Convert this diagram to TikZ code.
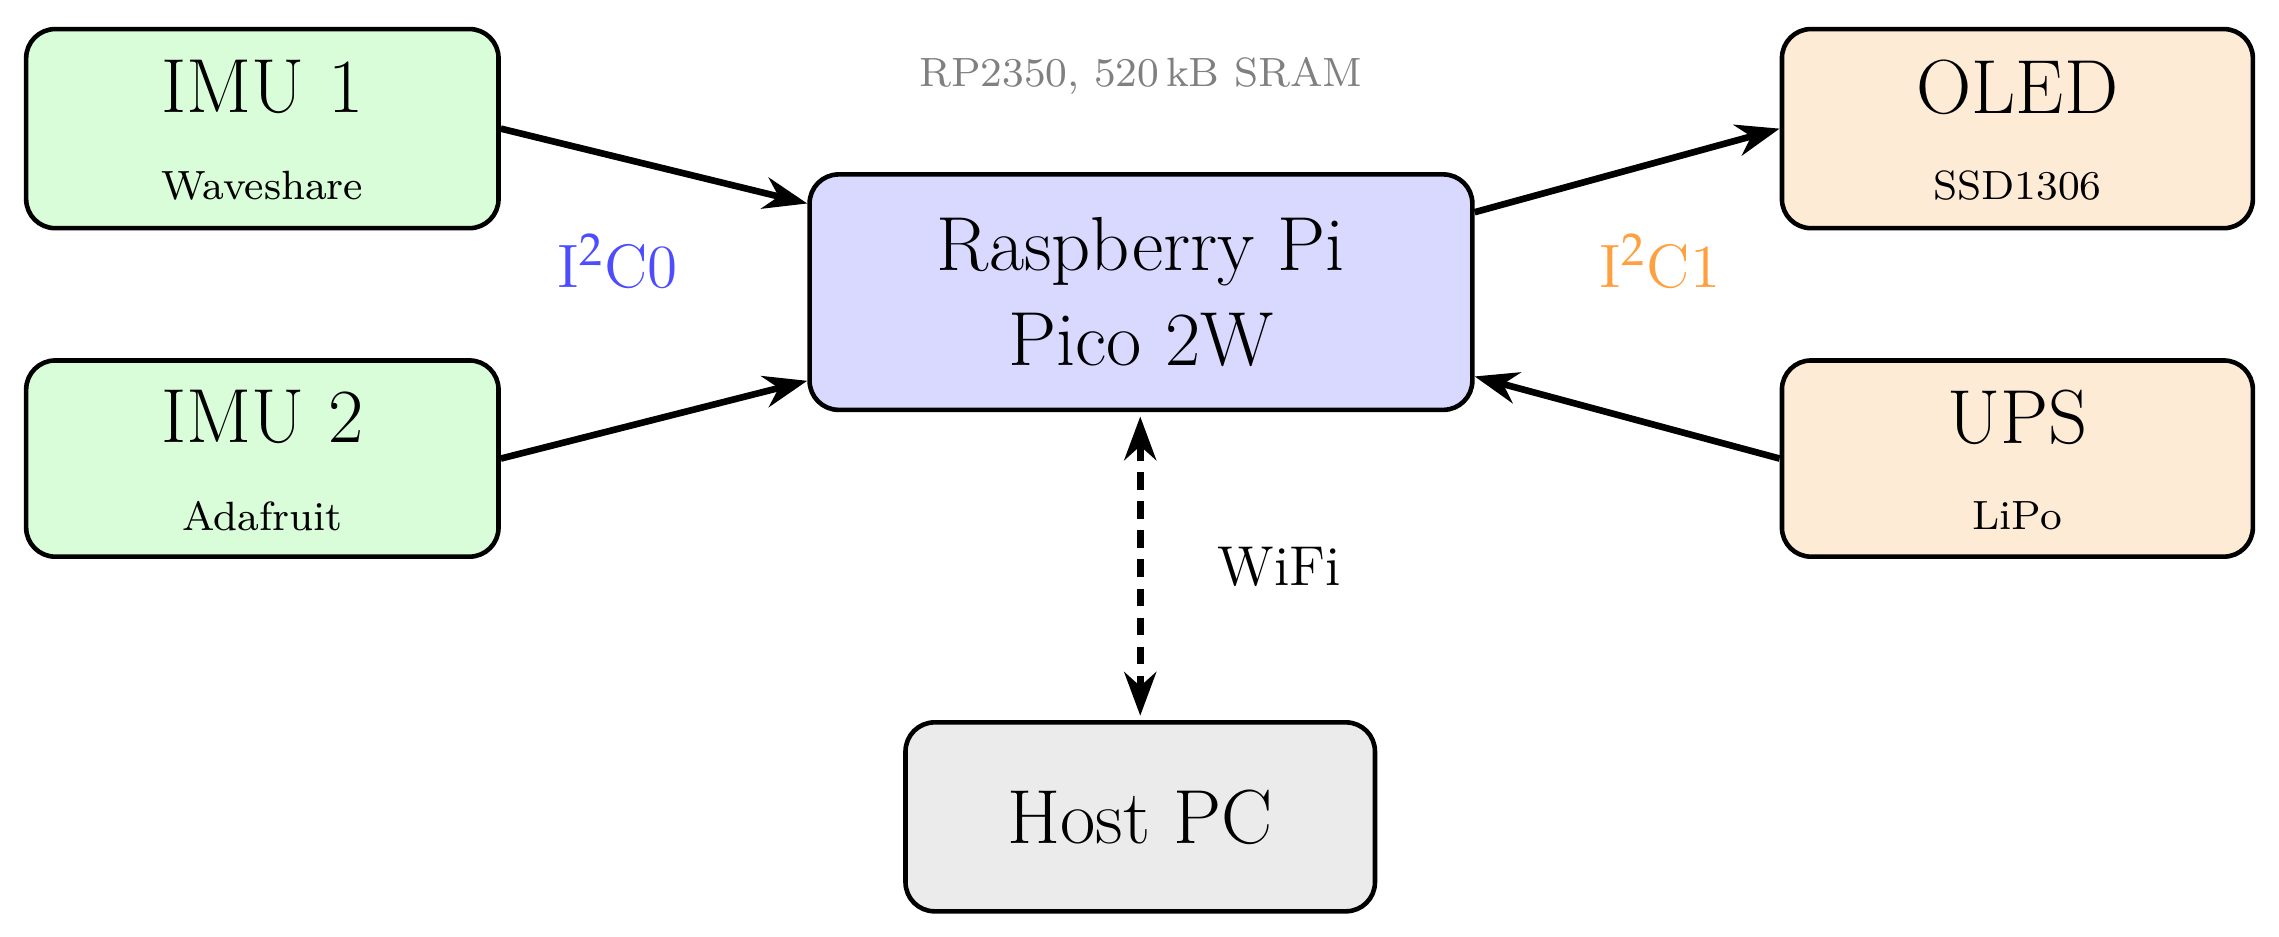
\documentclass[tikz,border=0pt]{standalone}
\usepackage{mathpazo}
\usetikzlibrary{arrows.meta}
\definecolor{gfill}{HTML}{D9FCD9}
\definecolor{bfill}{HTML}{D9D9FF}
\definecolor{ofill}{HTML}{FDEBD6}
\definecolor{hfill}{HTML}{EBEBEB}
\definecolor{i2cblue}{HTML}{4D4DFF}
\definecolor{i2corange}{HTML}{FFA040}
\begin{document}
\begin{tikzpicture}[
  box/.style={draw=black, line width=0.9pt, rounded corners=0.2cm, align=center, inner sep=0pt},
  small/.style={font=\fontsize{8}{10}\selectfont},
  conn/.style={line width=1.3pt, -{Stealth[length=0.3cm,width=0.22cm]}}
]
\useasboundingbox (0,0) rectangle (15.68,-6.44);
\node[box, fill=gfill, minimum width=3.25cm, minimum height=1.37cm] (imu1) at (1.805,-0.885) {};
\node[font=\fontsize{15}{18}\selectfont] (imu1t) at (1.805,-0.6) {IMU 1};
\node[small] (imu1s) at (1.805,-1.28) {Waveshare};
\node[box, fill=gfill, minimum width=3.25cm, minimum height=1.35cm] (imu2) at (1.805,-3.155) {};
\node[font=\fontsize{15}{18}\selectfont] (imu2t) at (1.805,-2.87) {IMU 2};
\node[small] (imu2s) at (1.805,-3.55) {Adafruit};
\node[box, fill=ofill, minimum width=3.24cm, minimum height=1.37cm] (oled) at (13.88,-0.885) {};
\node[font=\fontsize{15}{18}\selectfont] (oledt) at (13.88,-0.6) {OLED};
\node[small] (oleds) at (13.88,-1.28) {SSD1306};
\node[box, fill=ofill, minimum width=3.24cm, minimum height=1.35cm] (ups) at (13.88,-3.155) {};
\node[font=\fontsize{15}{18}\selectfont] (upst) at (13.88,-2.87) {UPS};
\node[small] (upss) at (13.88,-3.55) {LiPo};
\node[box, fill=bfill, minimum width=4.56cm, minimum height=1.62cm, font=\fontsize{15}{18.5}\selectfont] (pico) at (7.85,-2.01) {Raspberry Pi\\Pico 2W};
\node[box, fill=hfill, minimum width=3.23cm, minimum height=1.30cm, font=\fontsize{15}{18}\selectfont] (host) at (7.845,-5.62) {Host PC};
\node[font=\fontsize{8}{10}\selectfont, text=gray] (rp) at (7.85,-0.52) {RP2350, 520\,kB SRAM};
\node[font=\fontsize{12}{14}\selectfont, text=i2cblue] (c0) at (4.25,-1.8) {I$^2$C0};
\node[font=\fontsize{12}{14}\selectfont, text=i2corange] (c1) at (11.42,-1.8) {I$^2$C1};
\node[font=\fontsize{11}{13}\selectfont] (wifi) at (8.8,-3.9) {WiFi};
\draw[conn] (imu1.east) -- ([yshift=0.61cm]pico.west);
\draw[conn] (imu2.east) -- ([yshift=-0.61cm]pico.west);
\draw[conn] ([yshift=0.55cm]pico.east) -- (oled.west);
\draw[conn] (ups.west) -- ([yshift=-0.58cm]pico.east);
\draw[line width=1.3pt, dash pattern=on 0.12cm off 0.08cm, {Stealth[length=0.3cm,width=0.22cm]}-{Stealth[length=0.3cm,width=0.22cm]}] ([yshift=-0.03cm]pico.south -| host.north) -- ([yshift=0.03cm]host.north);
\end{tikzpicture}
\end{document}
